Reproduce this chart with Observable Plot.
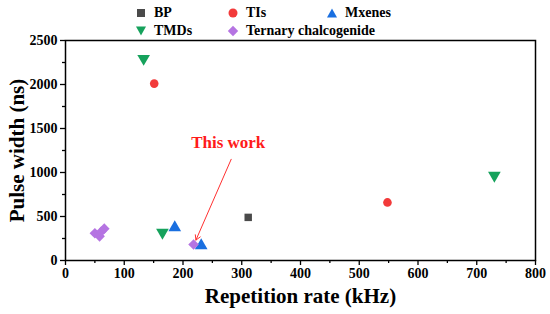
<!DOCTYPE html>
<html>
<head>
<meta charset="utf-8">
<script src="https://cdn.jsdelivr.net/npm/d3@7"></script>
<script src="https://cdn.jsdelivr.net/npm/@observablehq/plot@0.6"></script>
<style>
  body { margin: 0; background: #fff; font-family: "Liberation Serif", "Times New Roman", serif; }
  #wrap { position: relative; width: 550px; height: 314px; }
  #legend { position: absolute; left: 0; top: 0; width: 550px; height: 40px; font-weight: bold; font-size: 14px; color: #000; }
  .item { position: absolute; display: flex; align-items: center; height: 16px; }
  .item svg { width: 12px; height: 12px; margin-right: 7px; }
</style>
</head>
<body>
<div id="wrap">
  <div id="chart"></div>
  <div id="legend"></div>
</div>
<script>
// Series data: [repetition rate (kHz), pulse width (ns)]
const BP = [[311, 490]];
const TIs = [[151, 2010], [548, 660]];
const Mxenes = [[186, 375], [231, 170]];
const TMDs = [[133, 2295], [165, 318], [730, 966]];
const Ternary = [[50, 310], [58, 275], [61, 330], [66, 362], [218, 182]];

const seriesNames = ["BP", "TIs", "Mxenes", "TMDs", "Ternary chalcogenide"];
const seriesColors = ["#4a4a4a", "#f23a3a", "#1a6fe0", "#16a25c", "#b574e2"];

const xTicks = [0, 100, 200, 300, 400, 500, 600, 700, 800];
const yTicks = [0, 500, 1000, 1500, 2000, 2500];
const xMinor = [50, 150, 250, 350, 450, 550, 650, 750];
const yMinor = [250, 750, 1250, 1750, 2250];

// Annotation
const noteText = ["This work"];
const noteTextPos = [[277, 1335]];
const noteArrow = [[282, 1150, 222, 232]];

const font = `"Liberation Serif", "Times New Roman", serif`;

const rows = (arr) => arr.map(([x, y]) => ({x, y}));

const chart = Plot.plot({
  width: 550,
  height: 314,
  marginLeft: 65,
  marginRight: 15,
  marginTop: 40,
  marginBottom: 54,
  style: {fontFamily: font, fontWeight: "bold", fontSize: "13px", color: "#000", background: "transparent"},
  x: {domain: [0, 800]},
  y: {domain: [0, 2500]},
  marks: [
    Plot.axisX({ticks: xMinor, tickSize: 3, text: null, label: null, strokeWidth: 1.3}),
    Plot.axisX({ticks: xTicks, tickSize: 5, tickPadding: 3, strokeWidth: 1.3, fontSize: 14,
      tickFormat: d => String(d),
      label: "Repetition rate (kHz)", labelAnchor: "center", labelArrow: "none", labelOffset: 42}),
    Plot.axisY({ticks: yMinor, tickSize: 3, text: null, label: null, strokeWidth: 1.3}),
    Plot.axisY({ticks: yTicks, tickSize: 5, tickPadding: 3, strokeWidth: 1.3, fontSize: 14,
      tickFormat: d => String(d),
      label: "Pulse width (ns)", labelAnchor: "center", labelArrow: "none", labelOffset: 56}),
    Plot.frame({stroke: "#000", strokeWidth: 1.5}),
    Plot.dot(rows(BP), {x: "x", y: "y", symbol: "square", r: 4.2, fill: seriesColors[0]}),
    Plot.dot(rows(TIs), {x: "x", y: "y", symbol: "circle", r: 4.3, fill: seriesColors[1]}),
    Plot.dot(rows(Mxenes), {x: "x", y: "y", symbol: "triangle", r: 4.7, fill: seriesColors[2]}),
    Plot.dot(rows(TMDs), {x: "x", y: "y", symbol: "triangle", r: 4.7, rotate: 180, fill: seriesColors[3]}),
    Plot.dot(rows(Ternary), {x: "x", y: "y", symbol: "diamond2", r: 4.8, fill: seriesColors[4]}),
    Plot.arrow(noteArrow, {x1: d => d[0], y1: d => d[1], x2: d => d[2], y2: d => d[3],
      stroke: "#ff3030", strokeWidth: 1, headLength: 8, bend: false}),
    Plot.text(noteTextPos, {x: d => d[0], y: d => d[1], text: (d, i) => noteText[i],
      fill: "#ff1a1a", fontSize: 17, fontFamily: font})
  ]
});
// Force bold serif on all texts
chart.querySelectorAll("text").forEach(t => {
  t.style.fontWeight = "bold";
  t.style.fontFamily = font;
});
// Axis labels larger
chart.querySelectorAll("g[aria-label='x-axis label'] text, g[aria-label='y-axis label'] text").forEach(t => {
  t.setAttribute("font-size", "21");
  t.style.fontSize = "21px";
});
document.getElementById("chart").appendChild(chart);

// Legend
const symbolSvg = {
  "BP": `<rect x="2" y="2" width="8" height="8" fill="${seriesColors[0]}"/>`,
  "TIs": `<circle cx="6" cy="6" r="4.5" fill="${seriesColors[1]}"/>`,
  "Mxenes": `<path d="M6,1.5 L11,10.5 L1,10.5 Z" fill="${seriesColors[2]}"/>`,
  "TMDs": `<path d="M6,10.5 L11,1.5 L1,1.5 Z" fill="${seriesColors[3]}"/>`,
  "Ternary chalcogenide": `<path d="M6,0.8 L11.2,6 L6,11.2 L0.8,6 Z" fill="${seriesColors[4]}"/>`
};
const legendPos = {"BP": [135, 5], "TIs": [227, 5], "Mxenes": [326, 5], "TMDs": [135, 23], "Ternary chalcogenide": [227, 23]};
const legend = document.getElementById("legend");
seriesNames.forEach(name => {
  const d = document.createElement("div");
  d.className = "item";
  d.style.left = legendPos[name][0] + "px";
  d.style.top = legendPos[name][1] + "px";
  d.innerHTML = `<svg viewBox="0 0 12 12">${symbolSvg[name]}</svg><span>${name}</span>`;
  legend.appendChild(d);
});
</script>
</body>
</html>
